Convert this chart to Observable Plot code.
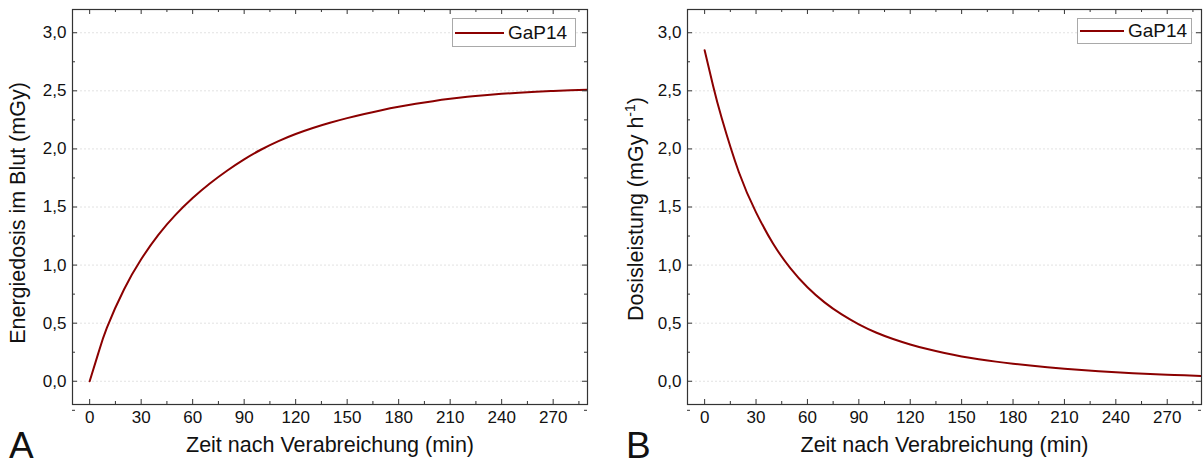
<!DOCTYPE html>
<html>
<head>
<meta charset="utf-8">
<script src="https://cdn.jsdelivr.net/npm/d3@7"></script>
<script src="https://cdn.jsdelivr.net/npm/@observablehq/plot@0.6"></script>
<style>
  html, body { margin: 0; padding: 0; background: #fff; }
  #wrap { position: relative; width: 1203px; height: 465px; font-family: "Liberation Sans", Arial, sans-serif; }
  .panel { position: absolute; top: 0; }
  .legend { position: absolute; border: 1px solid #a9a9a9; background: #fff; box-sizing: border-box; font-size: 19px; color: #111; }
  .legend .ln { position: absolute; height: 2px; background: #8b0000; }
  .legend .tx { position: absolute; line-height: 1; }
  .letter { position: absolute; font-size: 37px; line-height: 30px; height: 30px; color: #111; }
</style>
</head>
<body>
<div id="wrap"></div>
<script>
// ---- data ----
const timeMin = [0, 5, 10, 20, 30, 40, 50, 60, 70, 80, 90, 100, 110, 120, 130, 140, 150, 160, 170, 180, 190, 200, 210, 220, 230, 240, 250, 260, 270, 280, 290];
const energiedosis = [0, 0.24, 0.46, 0.79, 1.05, 1.26, 1.432, 1.577, 1.702, 1.812, 1.91, 1.995, 2.067, 2.128, 2.18, 2.225, 2.265, 2.301, 2.333, 2.362, 2.388, 2.411, 2.431, 2.448, 2.462, 2.474, 2.484, 2.492, 2.499, 2.505, 2.51];
const dosisleistung = [2.85, 2.54, 2.264, 1.799, 1.454, 1.184, 0.974, 0.809, 0.679, 0.575, 0.49, 0.42, 0.364, 0.317, 0.277, 0.243, 0.214, 0.19, 0.169, 0.151, 0.135, 0.121, 0.108, 0.097, 0.087, 0.078, 0.07, 0.063, 0.057, 0.051, 0.046];
const seriesName = "GaP14";
const xMajor = [0, 30, 60, 90, 120, 150, 180, 210, 240, 270];
const xMinor = [15, 45, 75, 105, 135, 165, 195, 225, 255, 285];
const yMajor = [0, 0.5, 1.0, 1.5, 2.0, 2.5, 3.0];
const yMinor = [-0.25, 0.25, 0.75, 1.25, 1.75, 2.25, 2.75];
const xTitle = "Zeit nach Verabreichung (min)";
const yTitleA = "Energiedosis im Blut (mGy)";
const yTitleB = "Dosisleistung (mGy h-1)";

const lineColor = "#8b0000";
const frameColor = "#333";

function makePanel(values, yTitle, opts) {
  const W = opts.width, H = 465;
  const mt = 9, mb = 61, ml = opts.ml, mr = opts.mr;
  const pw = W - ml - mr, ph = H - mt - mb;
  const data = timeMin.map((t, i) => ({t, v: values[i]}));
  const fmt = d => d.toFixed(1).replace(".", ",");
  const MAJ = 5, MIN = 3;
  const svg = Plot.plot({
    width: W, height: H,
    marginTop: mt, marginBottom: mb, marginLeft: ml, marginRight: mr,
    style: {fontFamily: "Liberation Sans, Arial, sans-serif", fontSize: "17px", color: "#111", background: "#fff"},
    x: {domain: [-10, 290]},
    y: {domain: [-0.2, 3.2]},
    marks: [
      Plot.gridY(yMajor, {stroke: "#e2e2e2", strokeOpacity: 1, strokeDasharray: "2,2"}),
      Plot.line(data, {x: "t", y: "v", stroke: lineColor, strokeWidth: 2, curve: "natural", clip: true}),
      // inward ticks, bottom/top
      Plot.tickX(xMajor, {x: d => d, insetTop: ph - MAJ, stroke: frameColor}),
      Plot.tickX(xMinor, {x: d => d, insetTop: ph - MIN, stroke: frameColor}),
      Plot.tickX(xMajor, {x: d => d, insetBottom: ph - MAJ, stroke: frameColor}),
      Plot.tickX(xMinor, {x: d => d, insetBottom: ph - MIN, stroke: frameColor}),
      // inward ticks, left/right
      Plot.tickY(yMajor, {y: d => d, insetRight: pw - MAJ, stroke: frameColor}),
      Plot.tickY(yMinor, {y: d => d, insetRight: pw - MIN, stroke: frameColor}),
      Plot.tickY(yMajor, {y: d => d, insetLeft: pw - MAJ, stroke: frameColor}),
      Plot.tickY(yMinor, {y: d => d, insetLeft: pw - MIN, stroke: frameColor}),
      Plot.axisX({ticks: xMajor, tickSize: 0, tickPadding: 6, label: null, fontSize: 17}),
      Plot.axisY({ticks: yMajor, tickSize: 0, tickPadding: 6, tickFormat: fmt, label: null, fontSize: 17}),
      Plot.frame({stroke: frameColor, strokeWidth: 1.2}),
      Plot.text([xTitle], {text: d => d, frameAnchor: "bottom", textAnchor: "middle", dy: 47, fontSize: 21.5, fill: "#111"}),
      Plot.text([yTitle], {text: d => d, frameAnchor: "left", textAnchor: "middle", dx: opts.ytdx, dy: opts.ytdy, rotate: -90, fontSize: 21.5, fill: "#111", className: "ytitle"})
    ]
  });
  return svg;
}

const wrap = document.getElementById("wrap");

const svgA = makePanel(energiedosis, yTitleA, {width: 600, ml: 72, mr: 13, ytdx: -54, ytdy: 6});
const divA = document.createElement("div");
divA.className = "panel"; divA.style.left = "0px";
divA.appendChild(svgA);
wrap.appendChild(divA);

const svgB = makePanel(dosisleistung, yTitleB, {width: 603, ml: 87, mr: 2, ytdx: -51, ytdy: 2});
const divB = document.createElement("div");
divB.className = "panel"; divB.style.left = "600px";
divB.appendChild(svgB);
wrap.appendChild(divB);

// superscript for h^-1
d3.select(svgB).selectAll(".ytitle text").each(function() {
  const t = d3.select(this);
  const full = t.text();
  const m = full.match(/^(.*h)(-1)(\))$/);
  if (m) {
    t.text(null);
    t.append("tspan").text(m[1]);
    t.append("tspan").attr("baseline-shift", "super").attr("font-size", "14px").text(m[2]);
    t.append("tspan").text(m[3]);
  }
});

function addLegend(left, top, w, h, lineLeft, lineW, textLeft) {
  const lg = document.createElement("div");
  lg.className = "legend";
  Object.assign(lg.style, {left: left + "px", top: top + "px", width: w + "px", height: h + "px"});
  const ln = document.createElement("div");
  ln.className = "ln";
  Object.assign(ln.style, {left: lineLeft + "px", width: lineW + "px", top: (h / 2 - 2) + "px"});
  const tx = document.createElement("div");
  tx.className = "tx";
  tx.textContent = seriesName;
  Object.assign(tx.style, {left: textLeft + "px", top: (h / 2 - 11) + "px"});
  lg.appendChild(ln); lg.appendChild(tx);
  wrap.appendChild(lg);
}
addLegend(452, 18, 124, 29, 2, 49, 55);
addLegend(1077, 18, 115, 26, 2, 44, 50);

function addLetter(txt, left) {
  const el = document.createElement("div");
  el.className = "letter";
  el.textContent = txt;
  Object.assign(el.style, {left: left + "px", top: "431px"});
  wrap.appendChild(el);
}
addLetter("A", 9);
addLetter("B", 626);
</script>
</body>
</html>
